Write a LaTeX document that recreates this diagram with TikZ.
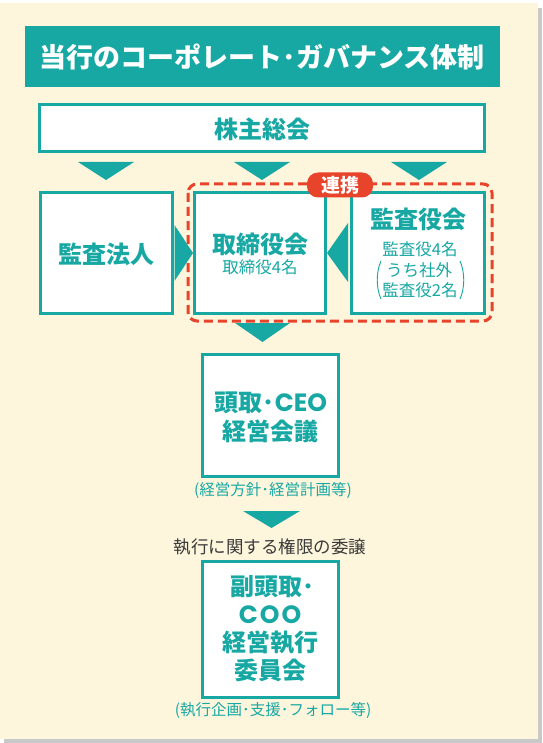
\documentclass[tikz,border=0pt]{standalone}
\usepackage{fontspec}
\newfontfamily\jp{Noto Sans CJK JP}
\newfontfamily\lat{Poppins}
\definecolor{teal1}{HTML}{17A8A4}
\definecolor{cream}{HTML}{FDF6DC}
\definecolor{shadowg}{HTML}{C9C9C9}
\definecolor{redd}{HTML}{E8432B}
\definecolor{darkt}{HTML}{3A3A3A}
\tikzset{
  boxs/.style={draw=teal1, line width=3pt, fill=white, inner sep=0pt},
  tri/.style={fill=teal1},
  big/.style={text=teal1, font=\jp\bfseries\fontsize{24}{28}\selectfont, inner sep=0pt},
  sub/.style={text=teal1, font=\jp\fontsize{16.5}{19}\selectfont, inner sep=0pt},
  note/.style={text=teal1, font=\jp\fontsize{15.5}{18}\selectfont, inner sep=0pt},
}
\newcommand{\latb}[1]{{\lat\fontsize{25}{28}\selectfont\bfseries #1}}
\begin{document}
\begin{tikzpicture}[x=1pt,y=-1pt]
\useasboundingbox (0,0) rectangle (542,743);
\fill[white] (0,0) rectangle (542,743);
\fill[shadowg] (4,8) rectangle (542,743);
\fill[cream] (0,3) rectangle (538,739);
% title
\node[fill=teal1, minimum width=475pt, minimum height=61pt, inner sep=0pt] (title) at (262.5,56.5) {};
\node[text=white, font=\jp\bfseries\fontsize{27}{30}\selectfont, inner sep=0pt] (titletext) at (262,57) {当行のコーポレート･ガバナンス体制};
% shareholders
\node[boxs, minimum width=445pt, minimum height=47pt] (sh) at (262,128) {};
\node[big] (shtext) at (262,129) {株主総会};
% triangles from shareholders
\fill[tri] (78,162) -- (134,162) -- (106,180) -- cycle;
\fill[tri] (234,162) -- (290,162) -- (262,180) -- cycle;
\fill[tri] (391,162) -- (447,162) -- (419,180) -- cycle;
% dashed frame
\draw[redd, line width=3pt, dash pattern=on 9pt off 5pt, rounded corners=9pt] (188,184) rectangle (492,321);
% boxes
\node[boxs, minimum width=132pt, minimum height=121pt] (audfirm) at (106,253) {};
\node[big] (audfirmtext) at (106,254) {監査法人};
\node[boxs, minimum width=131pt, minimum height=121pt] (board) at (260,253) {};
\node[big] (boardtext) at (260,244) {取締役会};
\node[sub] (boardsub) at (260,267) {取締役4名};
\node[boxs, minimum width=133pt, minimum height=121pt] (kansa) at (418,253) {};
\node[big] (kansatext) at (418,219) {監査役会};
\node[sub] (kansa1) at (420,249) {監査役4名};
\node[sub] (kansa2) at (419,270) {うち社外};
\node[sub] (kansa3) at (420,290) {監査役2名};
\draw[teal1, line width=0.9pt] (381,261) .. controls (376,272) and (376,288) .. (381,299);
\draw[teal1, line width=0.9pt] (460,261) .. controls (465,272) and (465,288) .. (460,299);
% renkei pill
\node[fill=redd, rounded corners=11pt, minimum width=66pt, minimum height=25pt, inner sep=0pt] (renkei) at (340,185) {};
\node[text=white, font=\jp\bfseries\fontsize{19}{22}\selectfont, inner sep=0pt] (renkeitext) at (340,185) {連携};
% side triangles
\fill[tri] (audfirm.east) ++(1,-28) -- ++(0,56) -- (board.west) ++(-1,0) -- cycle;
\fill[tri] (kansa.west) ++(-2,-30) -- ++(0,59) -- (board.east) ++(5,0) -- cycle;
% down triangle to CEO
\fill[tri] (235,323) -- (290,323) -- (262.5,342) -- cycle;
% CEO box
\node[boxs, minimum width=136pt, minimum height=122pt] (ceo) at (270,415) {};
\node[big] (ceo1) at (271,403) {頭取･\latb{CEO}};
\node[big] (ceo2) at (270,431) {経営会議};
\node[note] (ceonote) at (273,490) {(経営方針･経営計画等)};
\fill[tri] (243,511) -- (300,511) -- (271.5,528) -- cycle;
\node[text=darkt, font=\jp\fontsize{17.5}{20}\selectfont, inner sep=0pt] (deleg) at (270,547) {執行に関する権限の委譲};
% COO box
\node[boxs, minimum width=136pt, minimum height=136pt] (coo) at (270,629) {};
\node[big] (coo1) at (272,587) {副頭取･};
\node[big] (coo2) at (270,615) {\latb{C\hspace{2pt}O\hspace{2pt}O}};
\node[big] (coo3) at (270,643) {経営執行};
\node[big] (coo4) at (270,670) {委員会};
\node[note] (coonote) at (273,710) {(執行企画･支援･フォロー等)};
\end{tikzpicture}
\end{document}
